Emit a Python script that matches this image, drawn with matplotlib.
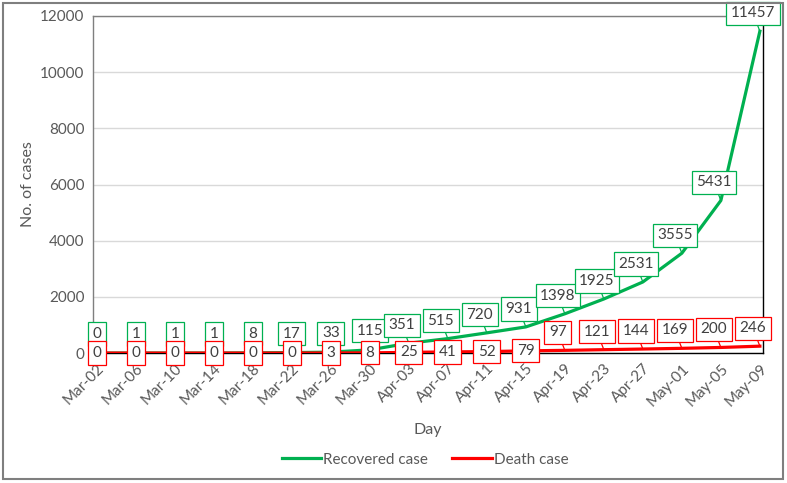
import matplotlib.pyplot as plt
from matplotlib.patches import Rectangle

# data (every 4th day)
days = ['Mar-02', 'Mar-06', 'Mar-10', 'Mar-14', 'Mar-18', 'Mar-22', 'Mar-26',
        'Mar-30', 'Apr-03', 'Apr-07', 'Apr-11', 'Apr-15', 'Apr-19', 'Apr-23',
        'Apr-27', 'May-01', 'May-05', 'May-09']
recovered = [0, 1, 1, 1, 8, 17, 33, 115, 351, 515, 720, 931, 1398, 1925,
             2531, 3555, 5431, 11457]
deaths = [0, 0, 0, 0, 0, 0, 3, 8, 25, 41, 52, 79, 97, 121, 144, 169, 200, 246]

green = '#00b050'
red = '#ff0000'
txt = '#595959'

plt.rcParams['font.family'] = ['Lato', 'DejaVu Sans']

fig = plt.figure(figsize=(7.87, 4.83), dpi=100)
ax = fig.add_axes([0.118, 0.269, 0.8515, 0.698])

ax.plot(days, recovered, color=green, lw=2.3, label='Recovered case', zorder=3)
ax.plot(days, deaths, color=red, lw=2.3, label='Death case', zorder=4)

ax.set_ylim(0, 12000)
ax.set_xlim(-0.1, len(days) - 1 + 0.08)
ax.set_yticks(range(0, 12001, 2000))
ax.grid(axis='y', color='#d9d9d9', lw=1)
ax.set_axisbelow(True)
ax.tick_params(length=0, labelsize=11, colors=txt, pad=6)
plt.setp(ax.get_xticklabels(), rotation=45, ha='right', rotation_mode='anchor')
for s in ['left', 'top']:
    ax.spines[s].set_color('#7f7f7f')
for s in ['right', 'bottom']:
    ax.spines[s].set_color('#000000')
for s in ax.spines.values():
    s.set_linewidth(1)

ax.set_xlabel('Day', fontsize=11.5, color=txt, labelpad=10)
ax.set_ylabel('No. of cases', fontsize=11.5, color=txt, labelpad=4)


def label(i, val, col, mode):
    box = dict(boxstyle='square,pad=0.3', fc='white', ec=col, lw=0.9)
    if mode == 'center':
        ax.annotate(str(val), (i, val), ha='center', va='center', fontsize=11,
                    color='#404040', bbox=box, zorder=6, annotation_clip=False)
    elif mode == 'above':
        ax.annotate(str(val), (i, val), xytext=(0, 19), textcoords='offset pixels',
                    ha='center', va='center', fontsize=11, color='#404040',
                    bbox=box, zorder=5, annotation_clip=False)
    else:
        ax.annotate(str(val), (i, val), xytext=(-7, 18), textcoords='offset pixels',
                    ha='center', va='center', fontsize=11, color='#404040',
                    bbox=box, zorder=5, annotation_clip=False,
                    arrowprops=dict(arrowstyle='-', color=col, lw=0.9,
                                    shrinkA=0, shrinkB=0))


for i, v in enumerate(recovered):
    label(i, v, green, 'above' if i < 8 else 'callout')
for i, v in enumerate(deaths):
    label(i, v, red, 'center' if i < 12 else 'callout')

fig.legend(loc='center', bbox_to_anchor=(0.54, 0.048), ncol=2, frameon=False,
           fontsize=11, labelcolor=txt, handlelength=2.6, handletextpad=0.1,
           columnspacing=1.6)

fig.patches.append(Rectangle((3 / 787, 4 / 483), 780 / 787, 476 / 483,
                             transform=fig.transFigure, fill=False,
                             ec='#7f7f7f', lw=1.5))

fig.savefig('out.png', dpi=100)
